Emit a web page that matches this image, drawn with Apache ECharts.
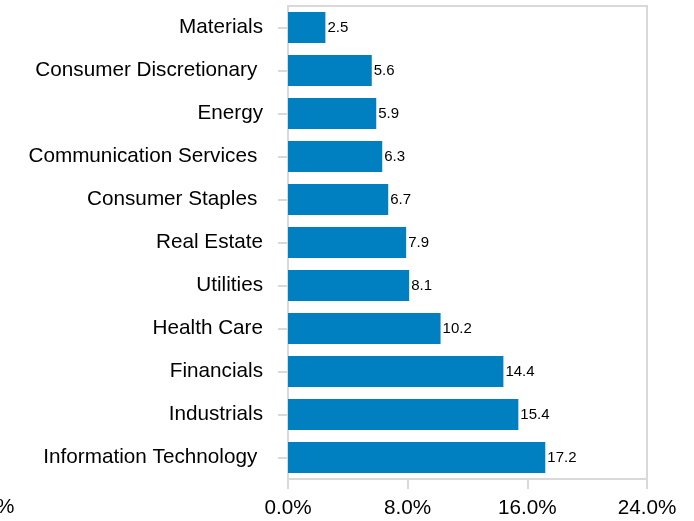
<!DOCTYPE html>
<html><head><meta charset="utf-8">
<script src="https://cdn.jsdelivr.net/npm/echarts@6/dist/echarts.min.js"></script>
<style>html,body{margin:0;padding:0;background:#fff}#c{width:694px;height:521px}</style>
</head><body><div id="c"></div>
<script>
const categories = ["Materials","Consumer Discretionary ","Energy","Communication Services ","Consumer Staples ","Real Estate","Utilities","Health Care","Financials","Industrials","Information Technology "];
const values = [2.5,5.6,5.9,6.3,6.7,7.9,8.1,10.2,14.4,15.4,17.2];
const xTicks = [0,8,16,24];

const chart = echarts.init(document.getElementById('c'), null, {renderer:'canvas'});
chart.setOption({
  animation:false,
  grid:{left:288,right:47,top:6,bottom:42,show:true,borderColor:'#d9d9d9',borderWidth:2,containLabel:false},
  xAxis:{type:'value',min:xTicks[0],max:xTicks[xTicks.length-1],interval:8,
    axisLine:{show:false},
    axisTick:{show:true,length:10,lineStyle:{color:'#d9d9d9',width:2}},
    splitLine:{show:false},
    axisLabel:{margin:19,fontFamily:'Liberation Sans, Arial',fontSize:20.7,color:'#000',
      formatter:v=>v.toFixed(1)+'%'}},
  yAxis:{type:'category',data:categories,inverse:true,
    axisLine:{show:false},
    axisTick:{show:true,alignWithLabel:true,length:10,lineStyle:{color:'#d9d9d9',width:2}},
    axisLabel:{margin:25,padding:[3,0,0,0],fontFamily:'Liberation Sans, Arial',fontSize:20.7,color:'#000'}},
  series:[{type:'bar',data:values,barCategoryGap:'28%',
    itemStyle:{color:'#0080c1'},
    label:{show:true,position:'right',distance:2,fontFamily:'Liberation Sans, Arial',fontSize:15,color:'#000',
      formatter:p=>p.value.toFixed(1)}}],
  graphic:[{type:'text',left:-4,top:497,style:{text:'%',font:'20.7px "Liberation Sans", Arial',fill:'#000'}}]
});
</script></body></html>
